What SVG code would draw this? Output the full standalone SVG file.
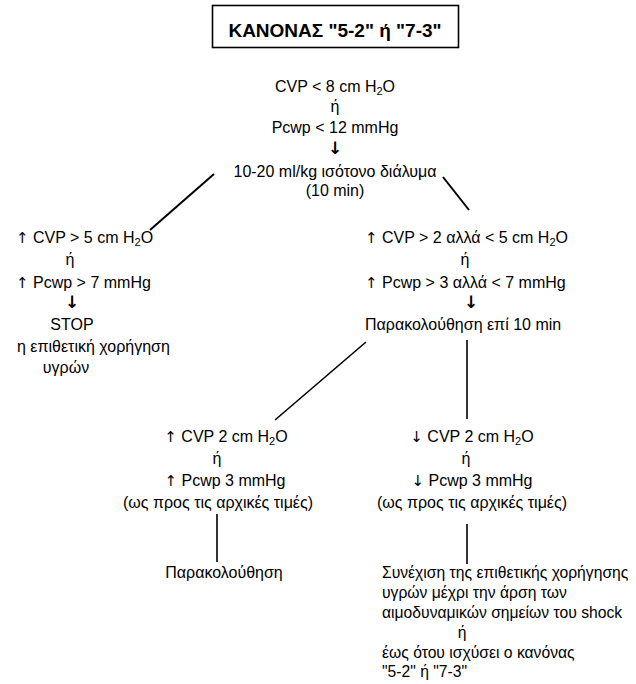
<svg xmlns="http://www.w3.org/2000/svg" width="636" height="684" viewBox="0 0 636 684">
<style>
text{font-family:"Liberation Sans",Arial,sans-serif;font-size:16px;fill:#000}
.m{text-anchor:middle}
.t{font-size:19px;font-weight:bold}
.sub{font-size:11px}
.a{font-family:"DejaVu Sans",sans-serif;font-size:15px}
.d{font-family:"DejaVu Sans",sans-serif;font-size:17px;font-weight:bold}
.g{font-size:15.7px}
line{stroke:#000;stroke-width:1.6}
.thick{stroke-width:2}
</style>
<rect width="636" height="684" fill="#fff"/>
<g id="title">
<rect x="212.5" y="5.5" width="246" height="42" fill="none" stroke="#000" stroke-width="1.6"/>
<text class="m t" x="335" y="37">ΚΑΝΟΝΑΣ "5-2" ή "7-3"</text>
</g>
<g id="start">
<text class="m" x="335" y="92">CVP &lt; 8 cm H<tspan class="sub" dy="3">2</tspan><tspan dy="-3">O</tspan></text>
<text class="m" x="335" y="112">ή</text>
<text class="m" x="335" y="133">Pcwp &lt; 12 mmHg</text>
<text class="m d" x="335" y="154">↓</text>
<text class="m" x="335" y="177">10-20 ml/kg ισότονο διάλυμα</text>
<text class="m" x="335" y="196">(10 min)</text>
</g>
<g id="stop">
<text x="16" y="243"><tspan class="a">↑</tspan> CVP &gt; 5 cm H<tspan class="sub" dy="3">2</tspan><tspan dy="-3">O</tspan></text>
<text class="m" x="70" y="265">ή</text>
<text x="16" y="288"><tspan class="a">↑</tspan> Pcwp &gt; 7 mmHg</text>
<text class="m d" x="72" y="308">↓</text>
<text class="m" x="72" y="330">STOP</text>
<text x="17" y="352">η επιθετική χορήγηση</text>
<text class="m" x="66" y="373">υγρών</text>
</g>
<g id="monitor10">
<text x="365" y="243"><tspan class="a">↑</tspan> CVP &gt; 2 αλλά &lt; 5 cm H<tspan class="sub" dy="3">2</tspan><tspan dy="-3">O</tspan></text>
<text class="m" x="465" y="265">ή</text>
<text x="365" y="288"><tspan class="a">↑</tspan> Pcwp &gt; 3 αλλά &lt; 7 mmHg</text>
<text class="m d" x="471" y="308">↓</text>
<text x="365" y="330">Παρακολούθηση επί 10 min</text>
</g>
<g id="rise">
<text class="m" x="226" y="442"><tspan class="a">↑</tspan> CVP 2 cm H<tspan class="sub" dy="3">2</tspan><tspan dy="-3">O</tspan></text>
<text class="m" x="217" y="464">ή</text>
<text class="m" x="225" y="486"><tspan class="a">↑</tspan> Pcwp 3 mmHg</text>
<text class="m" x="218" y="508">(ως προς τις αρχικές τιμές)</text>
</g>
<g id="monitor">
<text class="m" x="224" y="578">Παρακολούθηση</text>
</g>
<g id="fall">
<text class="m" x="472" y="442"><tspan class="a">↓</tspan> CVP 2 cm H<tspan class="sub" dy="3">2</tspan><tspan dy="-3">O</tspan></text>
<text class="m" x="466" y="464">ή</text>
<text class="m" x="472" y="486"><tspan class="a">↓</tspan> Pcwp 3 mmHg</text>
<text class="m" x="472" y="508">(ως προς τις αρχικές τιμές)</text>
</g>
<g id="continue">
<text class="g" x="382" y="578">Συνέχιση της επιθετικής χορήγησης</text>
<text class="g" x="382" y="598">υγρών μέχρι την άρση των</text>
<text class="g" x="382" y="618">αιμοδυναμικών σημείων του shock</text>
<text class="m g" x="462" y="638">ή</text>
<text class="g" x="382" y="658">έως ότου ισχύσει ο κανόνας</text>
<text class="g" x="382" y="677">"5-2" ή "7-3"</text>
</g>
<g id="connectors">
<line class="thick" x1="214" y1="174" x2="150" y2="230"/>
<line class="thick" x1="443" y1="177" x2="469" y2="210"/>
<line x1="366" y1="342" x2="275" y2="420"/>
<line x1="467" y1="340" x2="467" y2="419"/>
<line x1="217" y1="514" x2="217" y2="562"/>
<line x1="467" y1="524" x2="467" y2="564"/>
</g>
</svg>
